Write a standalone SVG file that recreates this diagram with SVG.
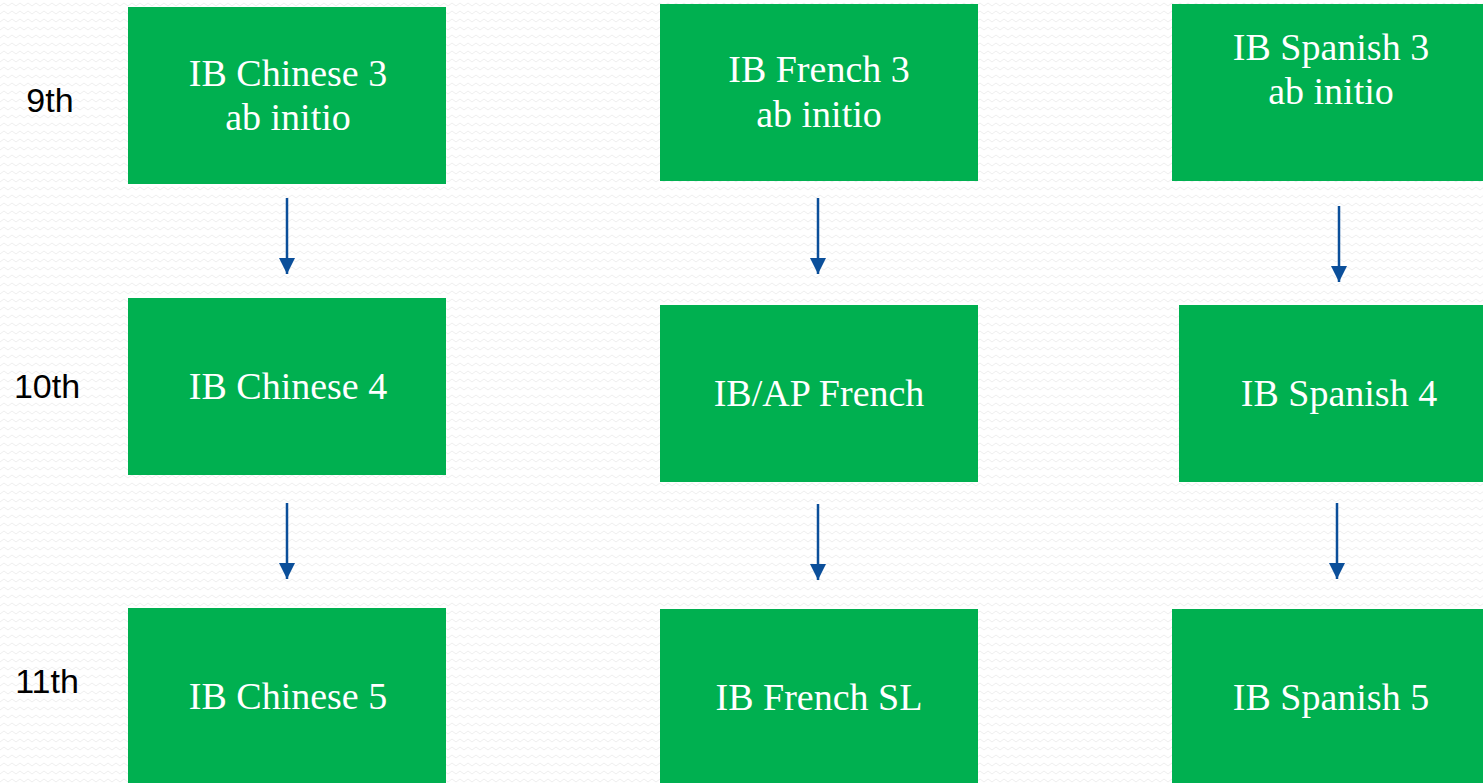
<svg xmlns="http://www.w3.org/2000/svg" width="1483" height="783" viewBox="0 0 1483 783">
<style>
.box{fill:#00b050;}
.t{font-family:"Liberation Serif","Times New Roman",serif;font-size:38px;fill:#ffffff;text-anchor:middle;}
.lbl{font-family:"Liberation Sans",Arial,sans-serif;font-size:34px;fill:#000000;text-anchor:middle;}
.arr{stroke:#0b4f9a;stroke-width:2.5;fill:none;}
</style>
<defs>
<pattern id="bg" width="8" height="8" patternUnits="userSpaceOnUse">
<path d="M0 6 L4 3 L8 6" stroke="#eeeeee" stroke-width="1" fill="none"/>
</pattern>
<marker id="ah" markerWidth="16" markerHeight="16" viewBox="0 0 16 16" refX="16" refY="8" orient="auto" markerUnits="userSpaceOnUse">
<path d="M0 0 L16 8 L0 16 Z" fill="#0b4f9a"/>
</marker>
</defs>
<rect width="1483" height="783" fill="#ffffff"/>
<rect width="1483" height="783" fill="url(#bg)"/>
<g id="labels">
<text class="lbl" x="50" y="112">9th</text>
<text class="lbl" x="47" y="398">10th</text>
<text class="lbl" x="47" y="693">11th</text>
</g>
<g id="chinese3"><rect class="box" x="128" y="7" width="318" height="177"/><text class="t" x="288" y="86">IB Chinese 3</text><text class="t" x="288" y="130">ab initio</text></g>
<g id="chinese4"><rect class="box" x="128" y="298" width="318" height="177"/><text class="t" x="288" y="399">IB Chinese 4</text></g>
<g id="chinese5"><rect class="box" x="128" y="608" width="318" height="175"/><text class="t" x="288" y="709">IB Chinese 5</text></g>
<g id="french3"><rect class="box" x="660" y="4" width="318" height="177"/><text class="t" x="819" y="82">IB French 3</text><text class="t" x="819" y="127">ab initio</text></g>
<g id="frenchap"><rect class="box" x="660" y="305" width="318" height="177"/><text class="t" x="819" y="406">IB/AP French</text></g>
<g id="frenchsl"><rect class="box" x="660" y="609" width="318" height="174"/><text class="t" x="819" y="710">IB French SL</text></g>
<g id="spanish3"><rect class="box" x="1172" y="4" width="318" height="177"/><text class="t" x="1331" y="60">IB Spanish 3</text><text class="t" x="1331" y="104">ab initio</text></g>
<g id="spanish4"><rect class="box" x="1179" y="305" width="318" height="177"/><text class="t" x="1339" y="406">IB Spanish 4</text></g>
<g id="spanish5"><rect class="box" x="1172" y="609" width="318" height="174"/><text class="t" x="1331" y="710">IB Spanish 5</text></g>
<g id="connectors">
<line class="arr" x1="287" y1="198" x2="287" y2="274" marker-end="url(#ah)"/>
<line class="arr" x1="287" y1="503" x2="287" y2="579" marker-end="url(#ah)"/>
<line class="arr" x1="818" y1="198" x2="818" y2="274" marker-end="url(#ah)"/>
<line class="arr" x1="818" y1="504" x2="818" y2="580" marker-end="url(#ah)"/>
<line class="arr" x1="1339" y1="206" x2="1339" y2="282" marker-end="url(#ah)"/>
<line class="arr" x1="1337" y1="503" x2="1337" y2="579" marker-end="url(#ah)"/>
</g>
</svg>
